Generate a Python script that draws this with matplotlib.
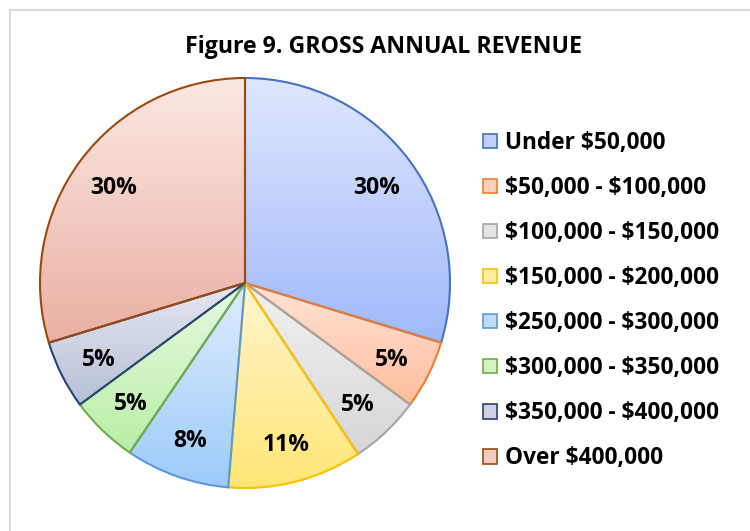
import matplotlib.pyplot as plt
import numpy as np
from matplotlib.colors import to_rgb, LinearSegmentedColormap
from matplotlib.patches import Patch
from matplotlib.lines import Line2D

plt.rcParams['font.family'] = ['Open Sans', 'DejaVu Sans']
plt.rcParams['font.weight'] = 'bold'
plt.rcParams['text.parse_math'] = False

categories = ['Under $50,000', '$50,000 - $100,000', '$100,000 - $150,000',
              '$150,000 - $200,000', '$250,000 - $300,000', '$300,000 - $350,000',
              '$350,000 - $400,000', 'Over $400,000']
shares = [29.7, 5.4, 5.6, 10.6, 8.2, 5.4, 5.4, 29.7]
pct_labels = ['30%', '5%', '5%', '11%', '8%', '5%', '5%', '30%']

edge_colors = ['#4472c4', '#ed7d31', '#a5a5a5', '#ffc000',
               '#5b9bd5', '#70ad47', '#264478', '#9e480e']
top_colors = ['#dfe7fd', '#ffe3d6', '#f2f2f2', '#fff6cf',
              '#dfedfd', '#e8f9e2', '#e6e8f1', '#fbe8e3']
bottom_colors = ['#a0b9fa', '#ffbd9c', '#d6d6d6', '#ffe675',
                 '#9dcbfa', '#b9eea6', '#b6bfd6', '#eab0a3']

W, H = 750, 531
fig = plt.figure(figsize=(7.5, 5.31), dpi=100)

# pie axes: centre (245, 283) px, radius 205 px
cx, cy, r = 245, 283, 205
L = 1.05
size = 2 * r * L
ax = fig.add_axes([(cx - r * L) / W, (H - cy - r * L) / H, size / W, size / H])

wedges, texts = ax.pie(shares, startangle=90, counterclock=False,
                       labels=pct_labels, labeldistance=0.8,
                       wedgeprops=dict(linewidth=1.5),
                       textprops=dict(fontsize=16.5, fontweight='bold', color='black',
                                      ha='center', va='center'))
ax.set_xlim(-L, L)
ax.set_ylim(-L, L)
ax.set_aspect('equal')

grad = np.linspace(0, 1, 256).reshape(-1, 1)
for w, ec, tc, bc in zip(wedges, edge_colors, top_colors, bottom_colors):
    w.set_facecolor('none')
    w.set_edgecolor(ec)
    w.set_zorder(3)
    bb = w.get_path().get_extents(w.get_patch_transform())
    cmap = LinearSegmentedColormap.from_list('g', [to_rgb(tc), to_rgb(bc)])
    im = ax.imshow(grad, cmap=cmap, aspect='auto', origin='upper',
                   extent=[bb.x0, bb.x1, bb.y0, bb.y1], zorder=2)
    im.set_clip_path(w)
for t in texts:
    x, y = t.get_position()
    t.set_position((x, y - 0.015))
    t.set_zorder(5)

fig.text(383 / W, 1 - 47 / H, 'Figure 9. GROSS ANNUAL REVENUE',
         ha='center', va='center', fontsize=16.7, fontweight='bold')

handles = [Patch(facecolor=np.mean([to_rgb(t), to_rgb(b)], axis=0), edgecolor=e, linewidth=1.2)
           for e, t, b in zip(edge_colors, top_colors, bottom_colors)]
fig.legend(handles, categories, loc='upper left', bbox_to_anchor=(483 / W, 1 - 131 / H),
           frameon=False, handlelength=0.6, handleheight=0.6,
           handletextpad=0.35, labelspacing=0.93, borderaxespad=0, borderpad=0,
           prop=dict(weight='bold', size=16.3))

# light grey chart-area border
fig.add_artist(Line2D([9.5 / W, 1], [1 - 9.5 / H, 1 - 9.5 / H], color='#d9d9d9', lw=1.5))
fig.add_artist(Line2D([9.5 / W, 9.5 / W], [0, 1 - 9.5 / H], color='#d9d9d9', lw=1.5))

fig.savefig('out.png', dpi=100)
